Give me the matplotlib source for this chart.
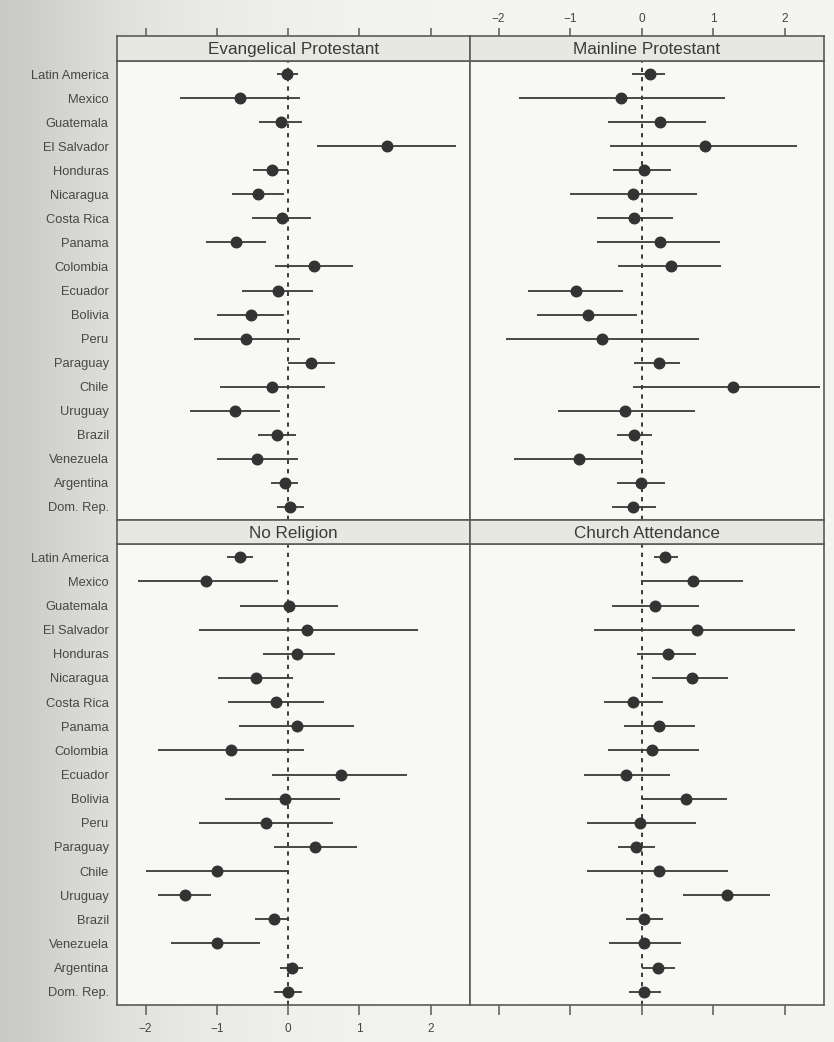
import numpy as np
import matplotlib
matplotlib.use('Agg')
import matplotlib.pyplot as plt

countries = ["Latin America", "Mexico", "Guatemala", "El Salvador", "Honduras",
             "Nicaragua", "Costa Rica", "Panama", "Colombia", "Ecuador",
             "Bolivia", "Peru", "Paraguay", "Chile", "Uruguay", "Brazil",
             "Venezuela", "Argentina", "Dom. Rep."]

panel_titles = ["Evangelical Protestant", "Mainline Protestant",
                "No Religion", "Church Attendance"]

# estimate, lower bound, upper bound for each panel
evang_est = [-0.01, -0.68, -0.10, 1.39, -0.22, -0.42, -0.08, -0.73, 0.36, -0.14,
             -0.52, -0.59, 0.32, -0.23, -0.75, -0.16, -0.44, -0.04, 0.03]
evang_lo = [-0.15, -1.51, -0.41, 0.41, -0.49, -0.79, -0.50, -1.15, -0.19, -0.65,
            -1.00, -1.32, 0.00, -0.96, -1.37, -0.42, -1.00, -0.24, -0.15]
evang_hi = [0.14, 0.17, 0.20, 2.35, 0.00, -0.06, 0.32, -0.31, 0.91, 0.35,
            -0.06, 0.17, 0.65, 0.52, -0.11, 0.11, 0.14, 0.14, 0.22]

main_est = [0.12, -0.29, 0.25, 0.88, 0.03, -0.12, -0.10, 0.25, 0.41, -0.92,
            -0.75, -0.55, 0.24, 1.28, -0.23, -0.11, -0.88, -0.01, -0.12]
main_lo = [-0.14, -1.72, -0.47, -0.44, -0.40, -1.00, -0.62, -0.63, -0.33, -1.59,
           -1.46, -1.90, -0.10, -0.12, -1.17, -0.34, -1.79, -0.34, -0.42]
main_hi = [0.32, 1.17, 0.90, 2.17, 0.41, 0.77, 0.44, 1.09, 1.11, -0.26,
           -0.06, 0.80, 0.53, 2.50, 0.74, 0.15, 0.00, 0.33, 0.20]

norel_est = [-0.68, -1.15, 0.01, 0.27, 0.13, -0.45, -0.17, 0.13, -0.80, 0.74,
             -0.05, -0.31, 0.38, -1.00, -1.45, -0.20, -1.00, 0.05, 0.00]
norel_lo = [-0.86, -2.11, -0.68, -1.25, -0.35, -0.99, -0.85, -0.69, -1.82, -0.22,
            -0.88, -1.25, -0.20, -2.00, -1.82, -0.46, -1.64, -0.12, -0.20]
norel_hi = [-0.49, -0.14, 0.70, 1.82, 0.65, 0.07, 0.50, 0.93, 0.22, 1.66,
            0.73, 0.63, 0.97, -0.01, -1.08, 0.01, -0.39, 0.21, 0.20]

attend_est = [0.33, 0.72, 0.19, 0.77, 0.37, 0.70, -0.12, 0.24, 0.14, -0.22,
              0.62, -0.02, -0.08, 0.24, 1.20, 0.03, 0.03, 0.23, 0.03]
attend_lo = [0.17, -0.01, -0.41, -0.66, -0.06, 0.15, -0.52, -0.25, -0.47, -0.80,
             0.00, -0.77, -0.33, -0.76, 0.58, -0.22, -0.45, 0.01, -0.18]
attend_hi = [0.51, 1.42, 0.80, 2.14, 0.76, 1.21, 0.30, 0.74, 0.80, 0.40,
             1.20, 0.76, 0.18, 1.21, 1.80, 0.30, 0.55, 0.46, 0.27]

x_ticks = [-2, -1, 0, 1, 2]
x_ticklabels = ["\u22122", "\u22121", "0", "1", "2"]

W, H = 834, 1042
ink = "#3a3a3a"
frame = "#5a5a5a"
strip_fc = "#e8e8e2"
panel_fc = "#f8f8f4"

plt.rcParams['font.family'] = ['Liberation Sans', 'DejaVu Sans']

fig = plt.figure(figsize=(W / 100, H / 100), dpi=100)

# page background with the grey gutter fading in from the left
bg = fig.add_axes([0, 0, 1, 1], zorder=-10)
xs = np.linspace(0, W, 600)
shade = 0.79 + 0.17 * (1 - np.exp(-xs / 120.0)) ** 1.5
rgb = np.stack([shade, shade, shade * 0.985], axis=-1)
bg.imshow(np.tile(rgb, (2, 1, 1)), aspect='auto', extent=[0, 1, 0, 1])
bg.axis('off')


def box(x0, x1, y0, y1):
    # pixel box (top-left origin) -> figure fraction rect
    return [x0 / W, 1 - y1 / H, (x1 - x0) / W, (y1 - y0) / H]


cols = [(117, 470), (470, 824)]
rows = [((36, 61), (61, 520)), ((520, 544), (544, 1005))]

panels = [
    (evang_est, evang_lo, evang_hi),
    (main_est, main_lo, main_hi),
    (norel_est, norel_lo, norel_hi),
    (attend_est, attend_lo, attend_hi),
]

n = len(countries)
ypos = np.arange(n, 0, -1)
xlim = (-2.4, 2.55)

for k, (est, lo, hi) in enumerate(panels):
    r, c = divmod(k, 2)
    (sy0, sy1), (dy0, dy1) = rows[r]
    cx0, cx1 = cols[c]

    ax = fig.add_axes(box(cx0, cx1, dy0, dy1))
    ax.set_facecolor(panel_fc)
    ax.set_xlim(xlim)
    ax.set_ylim(0.45, n + 0.55)

    ax.axvline(0, color=ink, lw=1.4, ls=(0, (2.2, 2.6)), zorder=1)
    ax.hlines(ypos, lo, hi, color=ink, lw=1.3, zorder=2)
    ax.plot(est, ypos, 'o', color="#333333", ms=7.6, zorder=3)

    for s in ax.spines.values():
        s.set_color(frame)
        s.set_linewidth(1.2)

    ax.set_yticks(ypos)
    if c == 0:
        ax.set_yticklabels(countries, fontsize=9.3, color="#474747")
    else:
        ax.set_yticklabels([])
    ax.tick_params(axis='y', length=0, pad=6)

    if r == 1:
        ax.set_xticks(x_ticks)
        ax.tick_params(axis='x', direction='out', length=7, width=1.1,
                       color=frame, labelsize=8.5, labelcolor="#444444", pad=6)
        if c == 1:
            ax.set_xticklabels([])
        else:
            ax.set_xticklabels(x_ticklabels)
    else:
        ax.set_xticks([])

    # strip with the panel title
    st = fig.add_axes(box(cx0, cx1, sy0, sy1))
    st.set_facecolor(strip_fc)
    st.set_xlim(xlim)
    st.set_yticks([])
    for s in st.spines.values():
        s.set_color(frame)
        s.set_linewidth(1.2)
    st.text(0.5, 0.45, panel_titles[k], transform=st.transAxes,
            ha='center', va='center', fontsize=12.3, color=ink)
    if r == 0:
        st.xaxis.set_ticks_position('top')
        st.set_xticks(x_ticks)
        st.tick_params(axis='x', direction='out', length=6, width=1.1,
                       color=frame, labelsize=8.5, labelcolor="#444444", pad=2)
        if c == 1:
            st.set_xticklabels(x_ticklabels)
        else:
            st.set_xticklabels([])
    else:
        st.set_xticks([])

fig.savefig("out.png", dpi=100)
